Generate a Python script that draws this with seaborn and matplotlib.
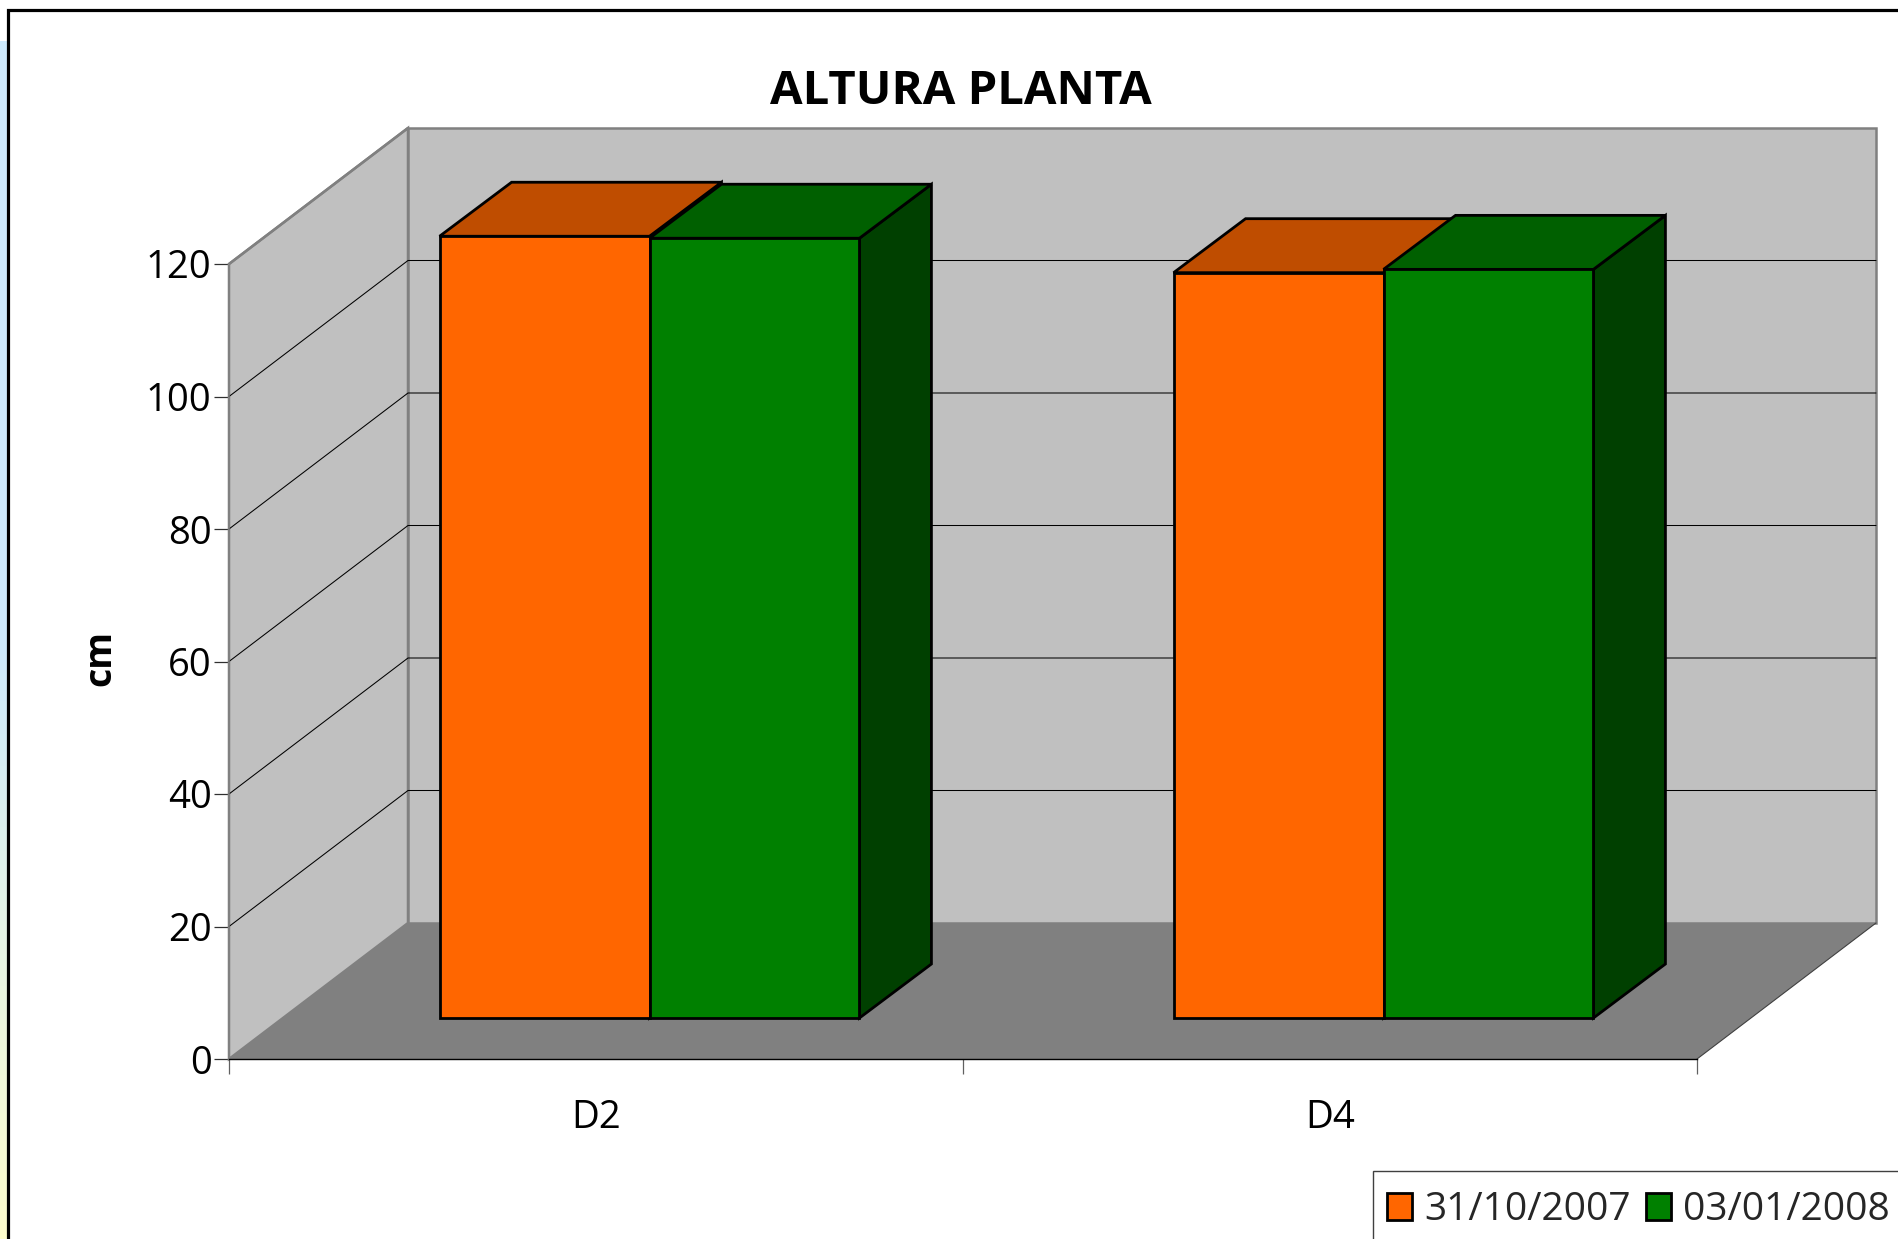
import matplotlib
matplotlib.use("Agg")
import matplotlib.pyplot as plt
from matplotlib.colors import LinearSegmentedColormap
from matplotlib.patches import Polygon, Rectangle
import numpy as np
import pandas as pd
import seaborn as sns

# values
categories = ["D2", "D4"]
dates = ["31/10/2007", "03/01/2008"]
values_first = [118.0, 112.5]
values_second = [117.7, 113.0]
y_ticks = [0, 20, 40, 60, 80, 100, 120]

colors = {"31/10/2007": "#ff6600", "03/01/2008": "#008000"}
top_colors = {"31/10/2007": "#bf4d00", "03/01/2008": "#006000"}
side_colors = {"31/10/2007": "#803300", "03/01/2008": "#004000"}

W, H = 1898, 1239
# plot size in pixels, one category and one unit of cm
CAT_PX = 734.0
CM_PX = 6.625


def fig_rect(left, top, right, bottom):
    return [left / W, 1 - bottom / H, (right - left) / W, (bottom - top) / H]


def main():
    sns.set_theme(style="white")
    plt.rcParams["font.family"] = ["Open Sans", "DejaVu Sans"]

    df = pd.DataFrame({
        "cat": categories * 2,
        "date": [dates[0]] * 2 + [dates[1]] * 2,
        "cm": values_first + values_second,
    })

    fig = plt.figure(figsize=(W / 100, H / 100), dpi=100, facecolor="white")

    # page background strip on the left
    strip = fig.add_axes(fig_rect(0, 41, 8, H))
    cmap = LinearSegmentedColormap.from_list("strip", ["#cdeafd", "#cdeafd", "#fdfdcc"])
    strip.imshow(np.linspace(0, 1, 256).reshape(-1, 1), aspect="auto", cmap=cmap)
    strip.axis("off")

    # black outer frame and legend box, both run off the page
    frame = fig.add_axes([0, 0, 1, 1], zorder=1)
    frame.set_xlim(0, W)
    frame.set_ylim(H, 0)
    frame.axis("off")
    frame.patch.set_alpha(0)
    frame.add_patch(Rectangle((8.5, 10), W + 50, H + 50, fc="white", ec="black", lw=2.3))
    frame.add_patch(Rectangle((1373, 1171), W, H, fc="white", ec="#404040", lw=1.0))

    # base plane: axis, ticks, walls and floor
    ax = fig.add_axes(fig_rect(229, 264, 229 + 2 * CAT_PX, 1059), zorder=2)
    ax.patch.set_alpha(0)
    ax.set_xlim(-0.5, 1.5)
    ax.set_ylim(0, 120)
    for name in ["top", "right"]:
        ax.spines[name].set_visible(False)
    ax.spines["left"].set_color("#808080")
    ax.spines["left"].set_linewidth(1.1)
    ax.spines["bottom"].set_color("black")
    ax.spines["bottom"].set_linewidth(1.0)

    wall_dx = 179 / CAT_PX
    wall_dy = 136 / CM_PX
    x0, x1 = -0.5, 1.5
    y_top = y_ticks[-1]
    left_wall = [(x0, 0), (x0, y_top), (x0 + wall_dx, y_top + wall_dy), (x0 + wall_dx, wall_dy)]
    back_wall = [(x0 + wall_dx, wall_dy), (x0 + wall_dx, y_top + wall_dy),
                 (x1 + wall_dx, y_top + wall_dy), (x1 + wall_dx, wall_dy)]
    floor = [(x0, 0), (x1, 0), (x1 + wall_dx, wall_dy), (x0 + wall_dx, wall_dy)]
    for pts, fc in [(left_wall, "#c0c0c0"), (back_wall, "#c0c0c0")]:
        ax.add_patch(Polygon(pts, closed=True, fc=fc, ec="#808080", lw=1.8, clip_on=False,
                             joinstyle="miter", zorder=1))
    ax.add_patch(Polygon(floor, closed=True, fc="#808080", ec="none", clip_on=False, zorder=1.5))
    ax.plot([x1, x1 + wall_dx], [0, wall_dy], color="#404040", lw=0.8, clip_on=False, zorder=1.6)

    # grid lines go along the left wall and across the back wall
    for v in y_ticks[1:-1]:
        ax.plot([x0, x0 + wall_dx, x1 + wall_dx], [v, v + wall_dy, v + wall_dy],
                color="black", lw=0.75, clip_on=False, zorder=1.8)
    # 120 continues into the wall border, only the back part below it is the 100 line
    ax.plot([x0, x0 + wall_dx], [y_top, y_top + wall_dy], color="#808080", lw=1.8,
            clip_on=False, zorder=1.8)

    ax.set_yticks(y_ticks)
    ax.tick_params(axis="y", length=11, width=0.9, color="#303030", pad=1.5, labelsize=27.5,
                   labelcolor="black", left=True)
    ax.set_xticks([0, 1])
    ax.set_xticklabels(categories)
    ax.tick_params(axis="x", length=0, pad=29, labelsize=27.5, labelcolor="black")
    ax.set_xticks([-0.5, 0.5, 1.5], minor=True)
    ax.tick_params(axis="x", which="minor", length=11, width=0.9, color="#606060", bottom=True)
    ax.set_ylabel("cm", fontsize=27, fontweight="bold", color="black")
    ax.yaxis.set_label_coords(-0.0747, 0.505)

    # front plane of the bars, shifted into the floor
    bars = fig.add_axes(fig_rect(229 + 53.5, 1018 - 120 * CM_PX, 229 + 53.5 + 2 * CAT_PX, 1018), zorder=3)
    bars.patch.set_alpha(0)
    sns.barplot(data=df, x="cat", y="cm", hue="date", hue_order=dates, order=categories,
                palette=colors, width=0.572, gap=0, saturation=1, edgecolor="black",
                linewidth=2.0, ax=bars, zorder=3, clip_on=False)
    bars.set_xlim(-0.5, 1.5)
    bars.set_ylim(0, 120)
    bars.axis("off")

    # depth faces built from the bars themselves
    depth_x = 72 / CAT_PX
    depth_y = 54 / CM_PX
    for date, cont in zip(dates, bars.containers):
        for rect in cont:
            left = rect.get_x()
            right = left + rect.get_width()
            h = rect.get_height()
            top = [(left, h), (right, h), (right + depth_x, h + depth_y), (left + depth_x, h + depth_y)]
            side = [(right, 0), (right, h), (right + depth_x, h + depth_y), (right + depth_x, depth_y)]
            bars.add_patch(Polygon(side, closed=True, fc=side_colors[date], ec="black", lw=2.0,
                                   clip_on=False, zorder=2, joinstyle="miter"))
            bars.add_patch(Polygon(top, closed=True, fc=top_colors[date], ec="black", lw=2.0,
                                   clip_on=False, zorder=2.5, joinstyle="miter"))

    sns.move_legend(bars, "center left", bbox_to_anchor=(1387 / W, 1 - 1210 / H),
                    bbox_transform=fig.transFigure, ncol=2, title=None, frameon=False,
                    fontsize=28, borderaxespad=0, borderpad=0, columnspacing=0.4,
                    handletextpad=0.3, handlelength=0.65, handleheight=0.72)
    bars.get_legend().set_zorder(10)

    fig.text(961 / W, 1 - 92 / H, "ALTURA PLANTA", ha="center", va="center", fontsize=34,
             fontweight="bold", color="black", zorder=5)

    fig.savefig("out.png", dpi=100)


if __name__ == "__main__":
    main()
